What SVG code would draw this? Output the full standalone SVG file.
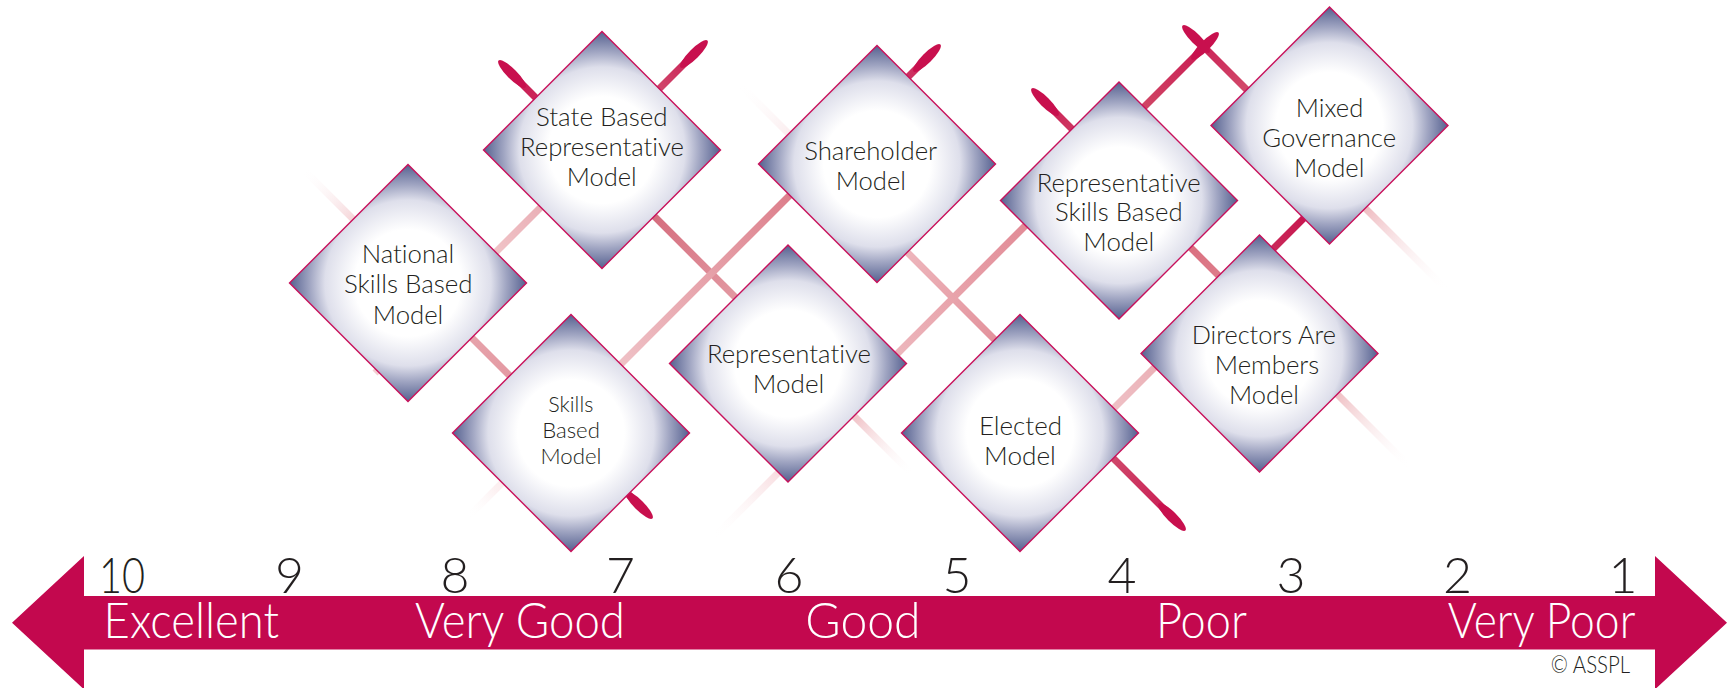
<svg xmlns="http://www.w3.org/2000/svg" width="1733" height="688" viewBox="0 0 1733 688">
<style>
.dia{stroke:#C8105A;stroke-width:1.4;fill:url(#dfill)}
.t{font-family:Lato,"Liberation Sans",sans-serif;font-weight:300;font-size:24.5px;fill:#231F20;text-anchor:middle;font-variant-ligatures:none}
.ts{font-size:21.5px}
.num{font-family:Lato,"Liberation Sans",sans-serif;font-weight:300;font-size:50px;fill:#231F20;text-anchor:middle}
.lab{font-family:Lato,"Liberation Sans",sans-serif;font-weight:300;font-size:49px;fill:#FFFFFF;text-anchor:middle;font-variant-ligatures:none}
.cp{font-family:Lato,"Liberation Sans",sans-serif;font-weight:300;font-size:23px;fill:#231F20;text-anchor:middle}
.ln{fill:none;stroke-width:7}
.tip{fill:#C8104E}
</style>
<defs>
<radialGradient id="dfill" cx="0.5" cy="0.5" r="0.5">
<stop offset="0" stop-color="#FFFFFF"/>
<stop offset="0.45" stop-color="#FFFFFF"/>
<stop offset="0.7" stop-color="#DEDFEB"/>
<stop offset="0.83" stop-color="#A0A5C2"/>
<stop offset="1" stop-color="#55608F"/>
</radialGradient>
<linearGradient id="gA" gradientUnits="userSpaceOnUse" x1="499" y1="61" x2="912" y2="474">
<stop offset="0" stop-color="#C8104E"/><stop offset="0.37" stop-color="#D56C7D"/><stop offset="0.58" stop-color="#E39AA3"/><stop offset="0.87" stop-color="#F2C9CD"/><stop offset="1" stop-color="#FFFFFF" stop-opacity="0"/>
</linearGradient>
<linearGradient id="gB" gradientUnits="userSpaceOnUse" x1="1185" y1="530" x2="738" y2="83">
<stop offset="0" stop-color="#C8104E"/><stop offset="0.16" stop-color="#CF476A"/><stop offset="0.43" stop-color="#E3939D"/><stop offset="0.63" stop-color="#EEB7BD"/><stop offset="0.85" stop-color="#F8E0E3"/><stop offset="1" stop-color="#FFFFFF" stop-opacity="0"/>
</linearGradient>
<linearGradient id="gC" gradientUnits="userSpaceOnUse" x1="940" y1="45" x2="468" y2="517">
<stop offset="0" stop-color="#C8104E"/><stop offset="0.06" stop-color="#CD3060"/><stop offset="0.32" stop-color="#DD7F8C"/><stop offset="0.45" stop-color="#E49AA3"/><stop offset="0.67" stop-color="#EFC0C5"/><stop offset="0.94" stop-color="#FCF0F1"/><stop offset="1" stop-color="#FFFFFF" stop-opacity="0"/>
</linearGradient>
<linearGradient id="gD" gradientUnits="userSpaceOnUse" x1="707" y1="41" x2="375" y2="373">
<stop offset="0" stop-color="#C8104E"/><stop offset="0.14" stop-color="#D0456A"/><stop offset="0.5" stop-color="#EAB0B7"/><stop offset="0.63" stop-color="#F0C2C6"/><stop offset="1" stop-color="#F4D0D3"/>
</linearGradient>
<linearGradient id="gE" gradientUnits="userSpaceOnUse" x1="652" y1="518" x2="303" y2="169">
<stop offset="0" stop-color="#C8104E"/><stop offset="0.07" stop-color="#CC3A60"/><stop offset="0.41" stop-color="#E49AA3"/><stop offset="0.51" stop-color="#E6A2AA"/><stop offset="0.86" stop-color="#F6D8DB"/><stop offset="1" stop-color="#FFFFFF" stop-opacity="0"/>
</linearGradient>
<linearGradient id="gF" gradientUnits="userSpaceOnUse" x1="1218" y1="33" x2="713" y2="538">
<stop offset="0" stop-color="#C8104E"/><stop offset="0.145" stop-color="#D04565"/><stop offset="0.39" stop-color="#E28D98"/><stop offset="0.525" stop-color="#E8A3AB"/><stop offset="0.64" stop-color="#EDB7BD"/><stop offset="0.87" stop-color="#F8DDE0"/><stop offset="1" stop-color="#FFFFFF" stop-opacity="0"/>
</linearGradient>
<linearGradient id="gG" gradientUnits="userSpaceOnUse" x1="1183" y1="26" x2="1447" y2="290">
<stop offset="0" stop-color="#C8104E"/><stop offset="0.24" stop-color="#D24A6A"/><stop offset="0.7" stop-color="#F0C0C5"/><stop offset="1" stop-color="#FFFFFF" stop-opacity="0"/>
</linearGradient>
<linearGradient id="gH" gradientUnits="userSpaceOnUse" x1="1330" y1="192" x2="1090" y2="432">
<stop offset="0" stop-color="#C8104E"/><stop offset="0.11" stop-color="#C8164F"/><stop offset="0.24" stop-color="#C92A5A"/><stop offset="0.74" stop-color="#EBB2B8"/><stop offset="0.9" stop-color="#EFC0C5"/><stop offset="1" stop-color="#F2C8CC"/>
</linearGradient>
<linearGradient id="gI" gradientUnits="userSpaceOnUse" x1="1032" y1="89" x2="1410" y2="467">
<stop offset="0" stop-color="#C8104E"/><stop offset="0.1" stop-color="#CE3560"/><stop offset="0.42" stop-color="#DA7080"/><stop offset="0.49" stop-color="#DD7C8A"/><stop offset="0.81" stop-color="#F0C2C6"/><stop offset="1" stop-color="#FFFFFF" stop-opacity="0"/>
</linearGradient>
</defs>

<g id="connectors">
<path class="ln" stroke="url(#gA)" d="M511 73 L912 474"/>
<path class="ln" stroke="url(#gB)" d="M1173 518 L738 83"/>
<path class="ln" stroke="url(#gC)" d="M928 57 L468 517"/>
<path class="ln" stroke="url(#gD)" d="M695 53 L375 373"/>
<path class="ln" stroke="url(#gE)" d="M640 506 L303 169"/>
<path class="ln" stroke="url(#gF)" d="M1206 45 L713 538"/>
<path class="ln" stroke="url(#gG)" d="M1195 38 L1447 290"/>
<path class="ln" stroke="url(#gH)" d="M1330 192 L1090 432"/>
<path class="ln" stroke="url(#gI)" d="M1044 101 L1410 467"/>
<ellipse class="tip" cx="512" cy="74" rx="19" ry="5" transform="rotate(45 512 74)"/>
<ellipse class="tip" cx="1172" cy="517" rx="19" ry="5" transform="rotate(45 1172 517)"/>
<ellipse class="tip" cx="927" cy="58" rx="19" ry="5" transform="rotate(-45 927 58)"/>
<ellipse class="tip" cx="694" cy="54" rx="19" ry="5" transform="rotate(-45 694 54)"/>
<ellipse class="tip" cx="639" cy="505" rx="19" ry="5" transform="rotate(45 639 505)"/>
<ellipse class="tip" cx="1205" cy="46" rx="19" ry="5" transform="rotate(-45 1205 46)"/>
<ellipse class="tip" cx="1196" cy="39" rx="19" ry="5" transform="rotate(45 1196 39)"/>
<ellipse class="tip" cx="1045" cy="102" rx="19" ry="5" transform="rotate(45 1045 102)"/>
</g>

<g id="node-national">
<polygon class="dia" points="408,164.5 526.5,283 408,401.5 289.5,283"/>
<text class="t" x="408" y="262.5" textLength="92.6" lengthAdjust="spacingAndGlyphs">National</text>
<text class="t" x="408.3" y="293" textLength="128.7" lengthAdjust="spacingAndGlyphs">Skills Based</text>
<text class="t" x="408" y="323.5" textLength="70.6" lengthAdjust="spacingAndGlyphs">Model</text>
</g>
<g id="node-state-based">
<polygon class="dia" points="602,31.5 720.5,150 602,268.5 483.5,150"/>
<text class="t" x="601.8" y="126" textLength="131.7" lengthAdjust="spacingAndGlyphs">State Based</text>
<text class="t" x="602" y="155.5" textLength="164" lengthAdjust="spacingAndGlyphs">Representative</text>
<text class="t" x="601.7" y="185.5" textLength="70" lengthAdjust="spacingAndGlyphs">Model</text>
</g>
<g id="node-skills-based">
<polygon class="dia" points="571,314.5 689.5,433 571,551.5 452.5,433"/>
<text class="t ts" x="570.8" y="411.7" textLength="45" lengthAdjust="spacingAndGlyphs">Skills</text>
<text class="t ts" x="571" y="437.5" textLength="57.7" lengthAdjust="spacingAndGlyphs">Based</text>
<text class="t ts" x="571" y="463.5" textLength="61" lengthAdjust="spacingAndGlyphs">Model</text>
</g>
<g id="node-shareholder">
<polygon class="dia" points="877,45.5 995.5,164 877,282.5 758.5,164"/>
<text class="t" x="870.7" y="160" textLength="133" lengthAdjust="spacingAndGlyphs">Shareholder</text>
<text class="t" x="870.8" y="190" textLength="70.3" lengthAdjust="spacingAndGlyphs">Model</text>
</g>
<g id="node-representative">
<polygon class="dia" points="788,245 906.5,363.5 788,482 669.5,363.5"/>
<text class="t" x="788.9" y="363.3" textLength="164" lengthAdjust="spacingAndGlyphs">Representative</text>
<text class="t" x="788.5" y="393.3" textLength="71.5" lengthAdjust="spacingAndGlyphs">Model</text>
</g>
<g id="node-elected">
<polygon class="dia" points="1020,314.5 1138.5,433 1020,551.5 901.5,433"/>
<text class="t" x="1020.5" y="435" textLength="83" lengthAdjust="spacingAndGlyphs">Elected</text>
<text class="t" x="1020" y="465" textLength="71.8" lengthAdjust="spacingAndGlyphs">Model</text>
</g>
<g id="node-rep-skills-based">
<polygon class="dia" points="1119,82 1237.5,200.5 1119,319 1000.5,200.5"/>
<text class="t" x="1118.7" y="191.5" textLength="164" lengthAdjust="spacingAndGlyphs">Representative</text>
<text class="t" x="1118.8" y="221" textLength="127.7" lengthAdjust="spacingAndGlyphs">Skills Based</text>
<text class="t" x="1118.8" y="251" textLength="71" lengthAdjust="spacingAndGlyphs">Model</text>
</g>
<g id="node-mixed-governance">
<polygon class="dia" points="1329.5,7 1448,125.5 1329.5,244 1211,125.5"/>
<text class="t" x="1329.5" y="116.7" textLength="67.6" lengthAdjust="spacingAndGlyphs">Mixed</text>
<text class="t" x="1329.2" y="146.7" textLength="133.7" lengthAdjust="spacingAndGlyphs">Governance</text>
<text class="t" x="1329.2" y="176.7" textLength="70.3" lengthAdjust="spacingAndGlyphs">Model</text>
</g>
<g id="node-directors-members">
<polygon class="dia" points="1259.5,235 1378,353.5 1259.5,472 1141,353.5"/>
<text class="t" x="1263.8" y="344" textLength="144.3" lengthAdjust="spacingAndGlyphs">Directors Are</text>
<text class="t" x="1267" y="374" textLength="104.3" lengthAdjust="spacingAndGlyphs">Members</text>
<text class="t" x="1264" y="404" textLength="70" lengthAdjust="spacingAndGlyphs">Model</text>
</g>

<g id="scale">
<polygon fill="#C3084E" points="12,622.7 84,556 84,596 1655,596 1655,556 1727,622.7 1655,689.4 1655,649.5 84,649.5 84,689.4"/>
<text class="num" x="122" y="592.7" textLength="46" lengthAdjust="spacingAndGlyphs">10</text>
<text class="num" x="289.5" y="592.7">9</text>
<text class="num" x="455" y="592.7">8</text>
<text class="num" x="620.5" y="592.7">7</text>
<text class="num" x="789" y="592.7">6</text>
<text class="num" x="957" y="592.7">5</text>
<text class="num" x="1122" y="592.7">4</text>
<text class="num" x="1291" y="592.7">3</text>
<text class="num" x="1457.5" y="592.7">2</text>
<text class="num" x="1623" y="592.7">1</text>
<text class="lab" x="191.3" y="638.3" textLength="175.4" lengthAdjust="spacingAndGlyphs">Excellent</text>
<text class="lab" x="520" y="638.3" textLength="210" lengthAdjust="spacingAndGlyphs">Very Good</text>
<text class="lab" x="863" y="638.3" textLength="115.3" lengthAdjust="spacingAndGlyphs">Good</text>
<text class="lab" x="1201.4" y="638.3" textLength="91" lengthAdjust="spacingAndGlyphs">Poor</text>
<text class="lab" x="1541.5" y="638.3" textLength="187.7" lengthAdjust="spacingAndGlyphs">Very Poor</text>
<text class="cp" x="1590.4" y="673.3" textLength="79.3" lengthAdjust="spacingAndGlyphs">© ASSPL</text>
</g>
</svg>
